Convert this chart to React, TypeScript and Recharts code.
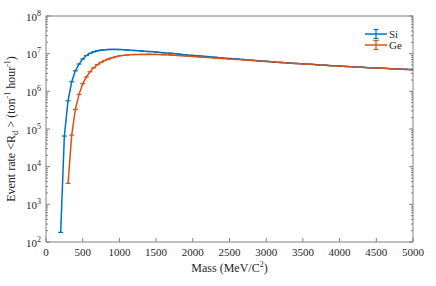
import React from 'react';
import { LineChart, Line, XAxis, YAxis } from 'recharts';

// dark-matter event rate vs mass
const siMass = [
  200, 250, 300, 350, 400, 450, 500, 550, 600, 650, 700, 750, 800, 850, 900, 950, 1000,
  1100, 1200, 1300, 1400, 1500, 1600, 1700, 1800, 1900, 2000, 2100, 2200, 2300, 2400, 2500,
  2600, 2700, 2800, 2900, 3000, 3100, 3200, 3300, 3400, 3500, 3600, 3700, 3800, 3900, 4000,
  4100, 4200, 4300, 4400, 4500, 4600, 4700, 4800, 4900, 5000,
];
const siRate = [
  1.8e2, 6.5e4, 5.6e5, 1.8e6, 3.5e6, 5.3e6, 7.2e6, 8.9e6, 1.02e7, 1.12e7, 1.19e7, 1.24e7, 1.27e7, 1.29e7, 1.3e7, 1.3e7, 1.29e7,
  1.26e7, 1.22e7, 1.18e7, 1.14e7, 1.1e7, 1.06e7, 1.02e7, 9.8e6, 9.4e6, 9.0e6, 8.7e6, 8.35e6, 8.0e6, 7.7e6, 7.45e6,
  7.2e6, 6.95e6, 6.7e6, 6.45e6, 6.25e6, 6.05e6, 5.85e6, 5.68e6, 5.52e6, 5.36e6, 5.21e6, 5.07e6, 4.94e6, 4.81e6, 4.69e6,
  4.57e6, 4.46e6, 4.36e6, 4.26e6, 4.17e6, 4.08e6, 3.99e6, 3.91e6, 3.83e6, 3.75e6,
];

const geMass = [
  300, 350, 400, 450, 500, 550, 600, 650, 700, 750, 800, 850, 900, 950, 1000,
  1100, 1200, 1300, 1400, 1500, 1600, 1700, 1800, 1900, 2000, 2100, 2200, 2300, 2400, 2500,
  2600, 2700, 2800, 2900, 3000, 3100, 3200, 3300, 3400, 3500, 3600, 3700, 3800, 3900, 4000,
  4100, 4200, 4300, 4400, 4500, 4600, 4700, 4800, 4900, 5000,
];
const geRate = [
  3.6e3, 6.9e4, 3.3e5, 8.3e5, 1.6e6, 2.4e6, 3.3e6, 4.2e6, 5.1e6, 5.9e6, 6.6e6, 7.2e6, 7.8e6, 8.3e6, 8.75e6,
  9.2e6, 9.45e6, 9.55e6, 9.6e6, 9.55e6, 9.4e6, 9.2e6, 8.95e6, 8.7e6, 8.45e6, 8.2e6, 7.95e6, 7.7e6, 7.45e6, 7.25e6,
  7.05e6, 6.85e6, 6.62e6, 6.4e6, 6.2e6, 6.02e6, 5.83e6, 5.66e6, 5.5e6, 5.34e6, 5.2e6, 5.06e6, 4.93e6, 4.8e6, 4.68e6,
  4.56e6, 4.45e6, 4.35e6, 4.25e6, 4.16e6, 4.07e6, 3.98e6, 3.9e6, 3.82e6, 3.74e6,
];

const massTicks = [0, 500, 1000, 1500, 2000, 2500, 3000, 3500, 4000, 4500, 5000];
const decades = [2, 3, 4, 5, 6, 7, 8];
const minorSteps = [2, 3, 4, 5, 6, 7, 8, 9];

const BLUE = '#0072BD';
const ORANGE = '#D95319';
const AXIS = '#808080';
const TEXT = '#262626';
const FONT = '"Liberation Serif", "Times New Roman", serif';

const siData = siMass.map((m, i) => ({ mass: m, rate: siRate[i] }));
const geData = geMass.map((m, i) => ({ mass: m, rate: geRate[i] }));

const rateTicks: number[] = [];
decades.forEach((d) => {
  rateTicks.push(Math.pow(10, d));
  if (d < 8) minorSteps.forEach((k) => rateTicks.push(k * Math.pow(10, d)));
});
rateTicks.sort((a, b) => a - b);

const isMajor = (v: number) => Math.abs(Math.log10(v) - Math.round(Math.log10(v))) < 1e-6;

const LeftTick = (props: any) => {
  const { x, y, payload } = props;
  const major = isMajor(payload.value);
  return (
    <g>
      <line x1={x} x2={x + (major ? 4 : 2)} y1={y} y2={y} stroke={AXIS} strokeWidth={1} />
      {major && (
        <text x={x - 5} y={y + 4.5} textAnchor="end" fontFamily={FONT} fontSize={11} fill={TEXT}>
          <tspan>10</tspan>
          <tspan dy={-5} fontSize={8}>{Math.round(Math.log10(payload.value))}</tspan>
        </text>
      )}
    </g>
  );
};

const RightTick = (props: any) => {
  const { x, y, payload } = props;
  const major = isMajor(payload.value);
  return <line x1={x} x2={x - (major ? 4 : 2)} y1={y} y2={y} stroke={AXIS} strokeWidth={1} />;
};

const BottomTick = (props: any) => {
  const { x, y, payload } = props;
  return (
    <g>
      <line x1={x} x2={x} y1={y} y2={y - 4} stroke={AXIS} strokeWidth={1} />
      <text x={x} y={y + 14} textAnchor="middle" fontFamily={FONT} fontSize={11} fill={TEXT}>
        {payload.value}
      </text>
    </g>
  );
};

const TopTick = (props: any) => {
  const { x, y } = props;
  return <line x1={x} x2={x} y1={y} y2={y + 4} stroke={AXIS} strokeWidth={1} />;
};

// tiny error bars: only the caps show
const capDot = (color: string) => (p: any) => (
  <path
    key={`cap-${p.index}`}
    d={`M${p.cx - 2.5},${p.cy}H${p.cx + 2.5}`}
    stroke={color}
    strokeWidth={1.2}
    fill="none"
  />
);

const YLabel = (props: any) => {
  const vb = props.viewBox || { x: 0, y: 16, width: 46, height: 226 };
  const cx = vb.x + 15;
  const cy = vb.y + vb.height / 2;
  return (
    <text
      transform={`translate(${cx},${cy}) rotate(-90)`}
      textAnchor="middle"
      fontFamily={FONT}
      fontSize={12}
      fill={TEXT}
    >
      <tspan>{'Event rate <R'}</tspan>
      <tspan dy={3} fontSize={9}>d</tspan>
      <tspan dy={-3}>{' > (ton'}</tspan>
      <tspan dy={-5} fontSize={8}>-1</tspan>
      <tspan dy={5}>{' hour'}</tspan>
      <tspan dy={-5} fontSize={8}>-1</tspan>
      <tspan dy={5}>)</tspan>
    </text>
  );
};

const XLabel = (props: any) => {
  const vb = props.viewBox || { x: 46, y: 242, width: 367, height: 44 };
  return (
    <text x={vb.x + vb.width / 2} y={vb.y + 30} textAnchor="middle" fontFamily={FONT} fontSize={12} fill={TEXT}>
      <tspan>Mass (MeV/C</tspan>
      <tspan dy={-5} fontSize={8}>2</tspan>
      <tspan dy={5}>)</tspan>
    </text>
  );
};

const legendItems = [
  { name: 'Si', color: BLUE },
  { name: 'Ge', color: ORANGE },
];

// legend drawn inside the svg, anchored to the right axis box
const LegendLabel = (props: any) => {
  const vb = props.viewBox || { x: 413, y: 16, width: 23, height: 226 };
  const x0 = vb.x - 48;
  const y0 = vb.y + 18;
  return (
    <g>
      {legendItems.map((it, i) => {
        const y = y0 + i * 11;
        return (
          <g key={it.name}>
            <line x1={x0} x2={x0 + 22} y1={y} y2={y} stroke={it.color} strokeWidth={1.5} />
            <line x1={x0 + 11} x2={x0 + 11} y1={y - 4.5} y2={y + 4.5} stroke={it.color} strokeWidth={1.2} />
            <line x1={x0 + 8.5} x2={x0 + 13.5} y1={y - 4.5} y2={y - 4.5} stroke={it.color} strokeWidth={1.2} />
            <line x1={x0 + 8.5} x2={x0 + 13.5} y1={y + 4.5} y2={y + 4.5} stroke={it.color} strokeWidth={1.2} />
            <text x={x0 + 24} y={y + 4} fontFamily={FONT} fontSize={11} fill={TEXT}>
              {it.name}
            </text>
          </g>
        );
      })}
    </g>
  );
};

export default function App() {
  return (
    <div style={{ position: 'absolute', left: 0, top: 0, background: '#fff' }}>
      <LineChart width={436} height={286} margin={{ top: 0, right: 0, bottom: 0, left: 0 }}>
        <XAxis
          xAxisId="bottom"
          dataKey="mass"
          type="number"
          domain={[0, 5000]}
          ticks={massTicks}
          interval={0}
          height={44}
          stroke={AXIS}
          tickSize={0}
          tickMargin={0}
          tickLine={false}
          tick={BottomTick}
          allowDataOverflow
          label={{ content: XLabel }}
        />
        <XAxis
          xAxisId="top"
          orientation="top"
          type="number"
          domain={[0, 5000]}
          ticks={massTicks}
          interval={0}
          height={16}
          stroke={AXIS}
          tickSize={0}
          tickMargin={0}
          tickLine={false}
          tick={TopTick}
          allowDataOverflow
        />
        <YAxis
          yAxisId="left"
          type="number"
          scale="log"
          domain={[1e2, 1e8]}
          ticks={rateTicks}
          interval={0}
          width={46}
          stroke={AXIS}
          tickSize={0}
          tickMargin={0}
          tickLine={false}
          tick={LeftTick}
          allowDataOverflow
          label={{ content: YLabel }}
        />
        <YAxis
          yAxisId="right"
          orientation="right"
          type="number"
          scale="log"
          domain={[1e2, 1e8]}
          ticks={rateTicks}
          interval={0}
          width={23}
          stroke={AXIS}
          tickSize={0}
          tickMargin={0}
          tickLine={false}
          tick={RightTick}
          allowDataOverflow
          label={{ content: LegendLabel }}
        />
        <Line
          xAxisId="bottom"
          yAxisId="left"
          data={siData}
          dataKey="rate"
          name="Si"
          type="linear"
          stroke={BLUE}
          strokeWidth={1.5}
          dot={capDot(BLUE)}
          activeDot={false}
          isAnimationActive={false}
        />
        <Line
          xAxisId="bottom"
          yAxisId="left"
          data={geData}
          dataKey="rate"
          name="Ge"
          type="linear"
          stroke={ORANGE}
          strokeWidth={1.5}
          dot={capDot(ORANGE)}
          activeDot={false}
          isAnimationActive={false}
        />
      </LineChart>
    </div>
  );
}
